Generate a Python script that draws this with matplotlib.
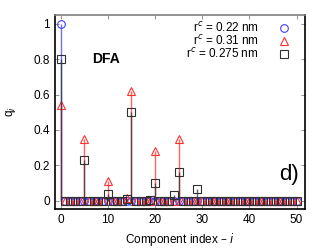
import numpy as np
import matplotlib.pyplot as plt

idx = np.arange(51)

q_022 = np.zeros(51)
q_022[0] = 1.0

q_031 = np.zeros(51)
q_031[[0, 5, 10, 14, 15, 20, 25]] = [0.54, 0.35, 0.11, 0.015, 0.62, 0.28, 0.35]

q_0275 = np.zeros(51)
q_0275[[0, 5, 10, 14, 15, 19, 20, 24, 25, 29]] = [0.80, 0.23, 0.035, 0.012, 0.50,
                                                   0.005, 0.10, 0.03, 0.16, 0.065]

labels = [r'r$^c$ = 0.22 nm', r'r$^c$ = 0.31 nm', r'r$^c$ = 0.275 nm']

plt.rcParams['font.family'] = ['Liberation Sans', 'DejaVu Sans']
plt.rcParams['font.size'] = 8.5

fig = plt.figure(figsize=(3.26, 2.49), dpi=100)
ax = fig.add_axes([55 / 326, 1 - 209 / 249, 250 / 326, 194 / 249])

series = [
    (q_022, '#4040ff', 'o', labels[0]),
    (q_031, '#ff3030', '^', labels[1]),
    (q_0275, '#303030', 's', labels[2]),
]
for q, c, m, lab in series:
    ax.vlines(idx, 0, q, color=c, lw=1.0, alpha=0.75)
    ax.plot(idx, q, ls='none', marker=m, mfc='none', mec=c, ms=5.5, mew=0.8,
            label=lab)

ax.set_xlim(-1.2, 51.8)
ax.set_ylim(-0.047, 1.05)
ax.set_xticks(np.arange(0, 51, 10))
ax.set_yticks([0, 0.2, 0.4, 0.6, 0.8, 1])
ax.set_yticklabels(['0', '0.2', '0.4', '0.6', '0.8', '1'])
ax.tick_params(direction='in', top=True, right=True, length=3, width=0.6,
               color='#808080')
for s in ax.spines.values():
    s.set_color('black')
    s.set_linewidth(1.2)
ax.spines['top'].set_color('#808080')

ax.set_xlabel('Component index – $\\it{i}$', labelpad=4)
ax.set_ylabel('q$_i$', labelpad=11)

ax.text(9.7, 0.8, 'DFA', fontweight='bold', fontsize=10, ha='center', va='center')
ax.text(50.5, 0.15, 'd)', fontsize=16, ha='right', va='center')

leg = ax.legend(loc='upper right', bbox_to_anchor=(1 - 13 / 250, 1 - 4 / 194),
                frameon=False, markerfirst=False, handlelength=1.0,
                handletextpad=1.6, labelspacing=-0.1, borderaxespad=0,
                borderpad=0.2, fontsize=8.5)
for t in leg.get_texts():
    t.set_ha('right')

fig.savefig('out.png', dpi=100)
